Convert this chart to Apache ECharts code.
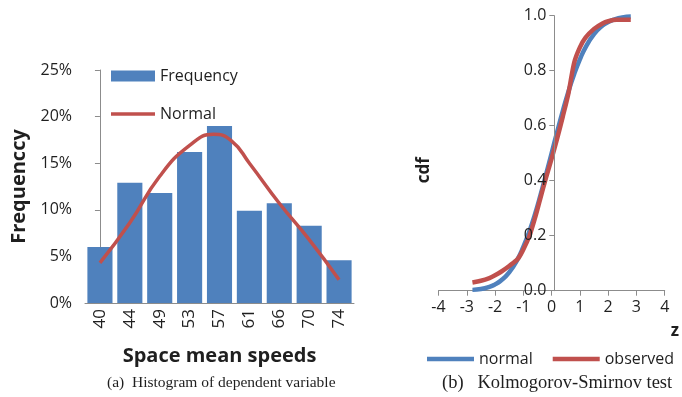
<!DOCTYPE html>
<html>
<head>
<meta charset="utf-8">
<script src="https://cdn.jsdelivr.net/npm/echarts@6/dist/echarts.min.js"></script>
<style>
  html, body { margin: 0; padding: 0; background: #ffffff; }
  #chart { width: 682px; height: 397px; }
</style>
</head>
<body>
<div id="chart"></div>
<script>
// Histogram of space mean speeds (percent of observations per bin)
const speedBins = ['40', '44', '49', '53', '57', '61', '66', '70', '74'];
const frequencyShare = [6.0, 12.9, 11.8, 16.2, 19.0, 9.9, 10.7, 8.3, 4.6];
// fitted normal curve, positioned in bin-index units (0 = first bin centre)
const normalFitPos = [0, 1, 2, 3, 3.8, 4.4, 5, 6, 7, 8];
const normalFit = [4.3, 8.6, 13.6, 16.9, 18.1, 17.4, 15.0, 10.7, 6.8, 2.5];

// Kolmogorov-Smirnov comparison: cumulative distribution over z
const zNormal = [-2.8, -2.5, -2.2, -2.0, -1.8, -1.5, -1.2, -1.0, -0.8, -0.6, -0.4, -0.2, 0.0,
                 0.2, 0.4, 0.6, 0.8, 1.0, 1.2, 1.5, 1.8, 2.0, 2.2, 2.5, 2.8];
const cdfNormal = [0.003, 0.006, 0.014, 0.023, 0.036, 0.067, 0.115, 0.159, 0.212, 0.274, 0.345, 0.421, 0.5,
                   0.579, 0.655, 0.726, 0.788, 0.841, 0.885, 0.933, 0.964, 0.977, 0.986, 0.994, 0.997];
const zObserved = [-2.8, -2.5, -2.2, -2.0, -1.8, -1.5, -1.2, -1.0, -0.8, -0.6, -0.4, -0.2, 0.0,
                   0.2, 0.4, 0.6, 0.8, 1.0, 1.2, 1.5, 1.8, 2.0, 2.3, 2.8];
const cdfObserved = [0.03, 0.036, 0.046, 0.056, 0.068, 0.09, 0.115, 0.15, 0.195, 0.26, 0.335, 0.41, 0.48,
                     0.555, 0.635, 0.72, 0.83, 0.885, 0.92, 0.952, 0.972, 0.98, 0.985, 0.985];
const cdfTicks = { min: 0, max: 1, step: 0.2 };
const zTicks = { min: -4, max: 4, step: 1 };

const BLUE = '#4F81BD';
const RED = '#C0504D';
const AXIS = '#8c8c8c';
const TEXT = '#1f1f1f';
const SANS = '"Open Sans", "Liberation Sans", sans-serif';
const SERIF = '"Liberation Serif", "DejaVu Serif", serif';

// right panel geometry: the cdf axis sits on z = 0
const KS_LEFT = 438.5;
const KS_WIDTH = 231.6;
const zeroOffset = KS_WIDTH * (0 - zTicks.min) / (zTicks.max - zTicks.min);

const chart = echarts.init(document.getElementById('chart'), null, { renderer: 'canvas' });

const pairs = (xs, ys) => xs.map((x, i) => [x, ys[i]]);

chart.setOption({
  animation: false,
  backgroundColor: '#ffffff',
  textStyle: { fontFamily: SANS },
  title: [
    {
      text: '(a)  Histogram of dependent variable',
      left: 102, top: 370,
      textStyle: { fontFamily: SERIF, fontSize: 15.5, fontWeight: 'normal', color: TEXT }
    },
    {
      text: '(b)   Kolmogorov-Smirnov test',
      left: 437, top: 369,
      textStyle: { fontFamily: SERIF, fontSize: 18.5, fontWeight: 'normal', color: TEXT }
    }
  ],
  legend: [
    {
      data: [{ name: 'Frequency', icon: 'rect' }],
      left: 106, top: 63,
      itemWidth: 44, itemHeight: 11,
      textStyle: { fontFamily: SANS, fontSize: 16, color: TEXT }
    },
    {
      data: [{ name: 'Normal', icon: 'rect' }],
      left: 106, top: 101,
      itemWidth: 44, itemHeight: 3.5,
      textStyle: { fontFamily: SANS, fontSize: 16, color: TEXT }
    },
    {
      data: [{ name: 'normal', icon: 'rect' }, { name: 'observed', icon: 'rect' }],
      left: 422, top: 346,
      itemWidth: 47, itemHeight: 4.5, itemGap: 20,
      textStyle: { fontFamily: SANS, fontSize: 16, color: TEXT }
    }
  ],
  grid: [
    { left: 85, top: 70, width: 269, height: 233 },
    { left: KS_LEFT, top: 15.7, width: KS_WIDTH, height: 275 }
  ],
  xAxis: [
    {
      gridIndex: 0,
      type: 'category',
      data: speedBins,
      axisLine: { lineStyle: { color: AXIS, width: 1 } },
      axisTick: { show: false },
      axisLabel: { rotate: 90, margin: 6, fontSize: 17, color: TEXT, fontFamily: SANS },
      name: 'Space mean speeds',
      nameLocation: 'middle',
      nameGap: 43,
      nameTextStyle: { fontFamily: SANS, fontSize: 20, fontWeight: 'bold', color: TEXT }
    },
    {
      gridIndex: 1,
      type: 'value',
      min: zTicks.min, max: zTicks.max, interval: zTicks.step,
      axisLine: { lineStyle: { color: AXIS, width: 1 } },
      axisTick: { show: true, length: 5, lineStyle: { color: AXIS } },
      axisLabel: { margin: 9, fontSize: 16, color: TEXT, fontFamily: SANS },
      splitLine: { show: false },
      name: 'z',
      nameLocation: 'end',
      nameGap: 6,
      nameTextStyle: { fontFamily: SANS, fontSize: 17, fontWeight: 'bold', color: TEXT,
                       verticalAlign: 'top', padding: [32, 0, 0, 0] }
    },
    {
      // bin-index scale aligned with the category bands, used by the normal curve
      gridIndex: 0,
      type: 'value',
      min: -0.5, max: speedBins.length - 0.5,
      show: false
    }
  ],
  yAxis: [
    {
      gridIndex: 0,
      type: 'value',
      min: 0, max: 25, interval: 5,
      axisLine: { show: true, lineStyle: { color: AXIS, width: 1 } },
      axisTick: { show: true, length: 5, lineStyle: { color: AXIS } },
      axisLabel: { margin: 13, fontSize: 16, color: TEXT, fontFamily: SANS, formatter: v => v + '%' },
      splitLine: { show: false },
      name: 'Frequenccy',
      nameLocation: 'middle',
      nameRotate: 90,
      nameGap: 56,
      nameTextStyle: { fontFamily: SANS, fontSize: 20, fontWeight: 'bold', color: TEXT }
    },
    {
      gridIndex: 1,
      type: 'value',
      z: 5,
      min: cdfTicks.min, max: cdfTicks.max, interval: cdfTicks.step,
      offset: -zeroOffset,
      axisLine: { show: true, onZero: false, lineStyle: { color: AXIS, width: 1 } },
      axisTick: { show: true, length: 5, lineStyle: { color: AXIS } },
      axisLabel: { margin: 8, fontSize: 16, color: TEXT, fontFamily: SANS, formatter: v => v.toFixed(1) },
      splitLine: { show: false },
      name: 'cdf',
      nameLocation: 'middle',
      nameRotate: 90,
      nameGap: 122,
      nameTextStyle: { fontFamily: SANS, fontSize: 17, fontWeight: 'bold', color: TEXT,
                       padding: [0, 34, 0, 0] }
    }
  ],
  series: [
    {
      name: 'Frequency',
      type: 'bar',
      xAxisIndex: 0, yAxisIndex: 0,
      data: frequencyShare,
      barCategoryGap: '16%',
      itemStyle: { color: BLUE }
    },
    {
      name: 'Normal',
      type: 'line',
      xAxisIndex: 2, yAxisIndex: 0,
      data: pairs(normalFitPos, normalFit),
      smooth: 0.5,
      symbol: 'none',
      lineStyle: { color: RED, width: 3.5 },
      itemStyle: { color: RED }
    },
    {
      name: 'normal',
      type: 'line',
      xAxisIndex: 1, yAxisIndex: 1,
      data: pairs(zNormal, cdfNormal),
      smooth: true,
      symbol: 'none',
      lineStyle: { color: BLUE, width: 4.5 },
      itemStyle: { color: BLUE }
    },
    {
      name: 'observed',
      type: 'line',
      xAxisIndex: 1, yAxisIndex: 1,
      data: pairs(zObserved, cdfObserved),
      smooth: 0.3,
      symbol: 'none',
      lineStyle: { color: RED, width: 4.5 },
      itemStyle: { color: RED }
    }
  ]
});
</script>
</body>
</html>
